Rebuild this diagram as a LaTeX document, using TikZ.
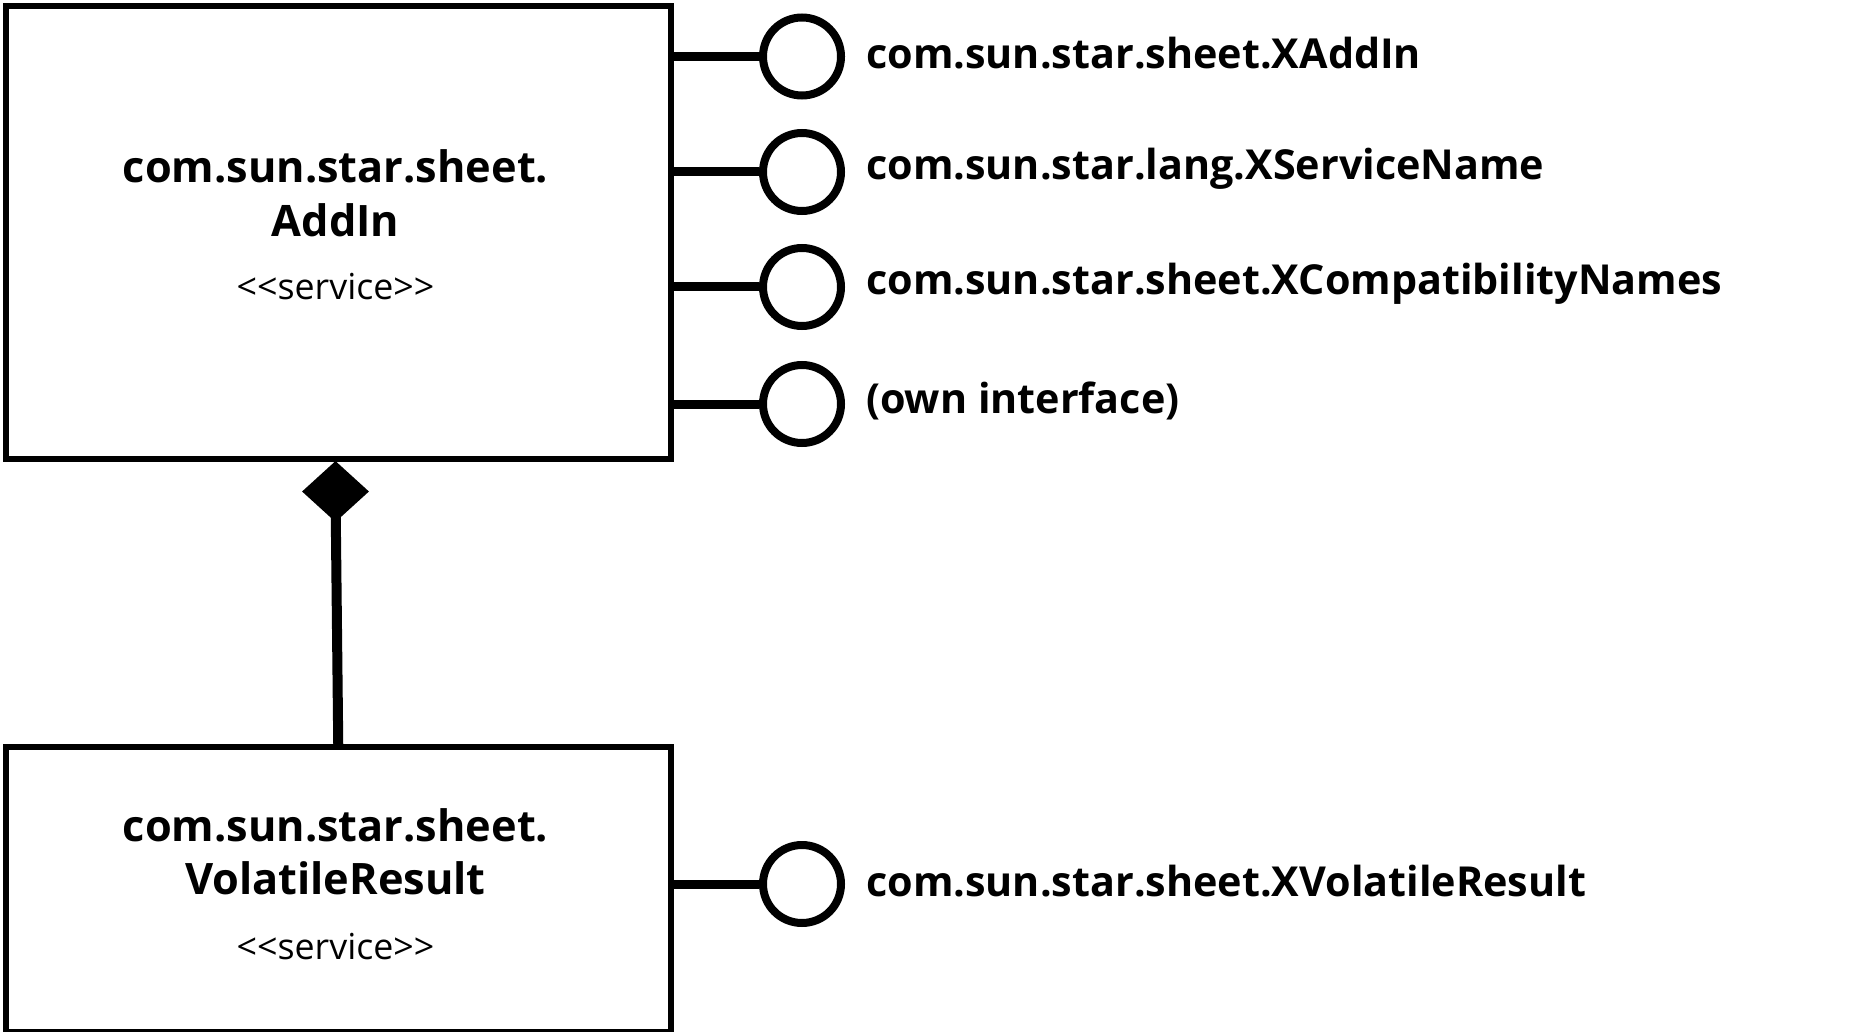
\documentclass[tikz,border=0pt]{standalone}
\usepackage{fontspec}
\setmainfont{Open Sans}
\usetikzlibrary{shapes.geometric}
\newcommand{\svclabel}{<\kern0pt<service>\kern0pt>}
\begin{document}
\begin{tikzpicture}[x=1pt,y=-1pt,
  svcbox/.style={draw,line width=6pt,minimum width=664.5pt,inner sep=0pt,anchor=north west},
  iface/.style={circle,draw,line width=8pt,minimum size=78pt,inner sep=0pt},
  ilink/.style={line width=9pt},
  ilabel/.style={anchor=west,font=\fontsize{41.3}{43}\selectfont\bfseries,inner sep=0pt},
  title/.style={font=\fontsize{43.3}{45}\selectfont\bfseries,inner sep=0pt},
  stereo/.style={font=\fontsize{35.8}{38}\selectfont,inner sep=0pt}]
\useasboundingbox (0,0) rectangle (1861,1032);
% boxes
\node[svcbox,minimum height=453pt] (addin) at (3,3) {};
\node[svcbox,minimum height=285pt] (vol) at (3,744) {};
% box texts
\node[title] (t1a) at (335.5,166) {com.sun.star.sheet.};
\node[title] (t1b) at (335.5,220) {AddIn};
\node[stereo] (s1) at (335.5,287) {\svclabel};
\node[title] (t2a) at (335.5,825) {com.sun.star.sheet.};
\node[title] (t2b) at (335.5,878) {VolatileResult};
\node[stereo] (s2) at (335.5,947) {\svclabel};
% interfaces
\node[iface] (c1) at (802,56.5) {};
\node[iface] (c2) at (802,172) {};
\node[iface] (c3) at (802,287) {};
\node[iface] (c4) at (802,404) {};
\node[iface] (c5) at (802,884) {};
\foreach \c in {c1,c2,c3,c4} \draw[ilink] (addin.east |- \c) -- (\c.west);
\draw[ilink] (vol.east |- c5) -- (c5.west);
\node[ilabel] (l1) at (866,53) {com.sun.star.sheet.XAddIn};
\node[ilabel] (l2) at (866,169) {com.sun.star.lang.XServiceName};
\node[ilabel] (l3) at (866,284) {com.sun.star.sheet.XCompatibilityNames};
\node[ilabel] (l4) at (866,401) {(own interface)};
\node[ilabel] (l5) at (866,881) {com.sun.star.sheet.XVolatileResult};
% composition
\node[diamond,fill,inner sep=0pt,minimum width=67pt,minimum height=61pt] (dia) at (335.5,491.5) {};
\draw[line width=10pt] (vol.north) -- (dia.center);
\end{tikzpicture}
\end{document}
